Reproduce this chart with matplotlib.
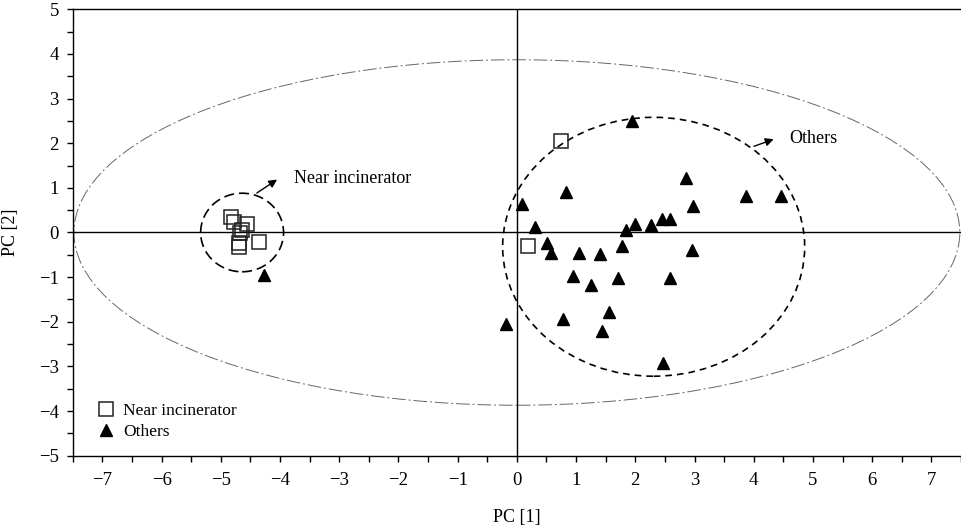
import matplotlib.pyplot as plt
from matplotlib.patches import Ellipse
from matplotlib.ticker import MultipleLocator

plt.rcParams['font.family'] = ['Liberation Serif', 'DejaVu Serif']

# PCA scores, samples collected near the incinerator
near_x = [-4.82, -4.78, -4.55, -4.64, -4.68, -4.70, -4.36, -4.69, 0.74, 0.18]
near_y = [0.35, 0.24, 0.20, 0.05, -0.02, -0.23, -0.22, -0.32, 2.05, -0.30]

# PCA scores, all other samples
others_x = [1.95, 2.86, 2.98, 0.83, 0.09, 0.30, 1.84, 2.00, 2.26, 2.45,
            2.58, 0.51, 0.57, 1.05, 1.40, 1.78, 2.96, 0.94, 1.26, 1.71,
            2.58, 1.55, 0.78, 1.44, -0.18, 2.46, 3.87, 4.46, -4.27]
others_y = [2.50, 1.23, 0.60, 0.91, 0.63, 0.13, 0.05, 0.19, 0.16, 0.31,
            0.31, -0.24, -0.45, -0.47, -0.49, -0.30, -0.39, -0.97, -1.17, -1.01,
            -1.01, -1.77, -1.94, -2.21, -2.06, -2.93, 0.82, 0.82, -0.95]

# Hotelling T2 ellipse and group outlines: (centre x, centre y, half width, half height)
t2_ellipse = (0.0, 0.0, 7.48, 3.87)
near_group = (-4.64, 0.0, 0.70, 0.88)
others_group = (2.31, -0.32, 2.55, 2.90)

fig = plt.figure(figsize=(9.61, 5.29), dpi=100)
ax = fig.add_axes([0.0757, 0.1386, 0.9243, 0.8438])

ax.set_xlim(-7.5, 7.5)
ax.set_ylim(-5, 5)

# outer confidence ellipse
cx, cy, a, b = t2_ellipse
ax.add_patch(Ellipse((cx, cy), 2 * a, 2 * b, fill=False, edgecolor='#666666',
                     lw=0.7, linestyle=(0, (14, 3, 2, 3))))

# group outlines
cx, cy, a, b = near_group
ax.add_patch(Ellipse((cx, cy), 2 * a, 2 * b, fill=False, edgecolor='black',
                     lw=1.2, linestyle=(0, (6, 3))))
cx, cy, a, b = others_group
ax.add_patch(Ellipse((cx, cy), 2 * a, 2 * b, fill=False, edgecolor='black',
                     lw=1.2, linestyle=(0, (4, 3))))

ax.axhline(0, color='black', lw=1.0, zorder=1)
ax.axvline(0, color='black', lw=1.0, zorder=1)

ax.plot(near_x, near_y, 's', ms=9.5, mfc='none', mec='#222222', mew=1.1,
        linestyle='none', label='Near incinerator', zorder=3)
ax.plot(others_x, others_y, '^', ms=8, color='black',
        linestyle='none', label='Others', zorder=3)

arrow = dict(arrowstyle='-|>', color='black', lw=1.0, mutation_scale=12)
ax.annotate('', xy=(-4.01, 1.22), xytext=(-4.43, 0.85), arrowprops=arrow)
ax.text(-3.76, 1.22, 'Near incinerator', fontsize=13, va='center', ha='left')
ax.annotate('', xy=(4.38, 2.11), xytext=(3.96, 1.91), arrowprops=arrow)
ax.text(4.6, 2.11, 'Others', fontsize=13, va='center', ha='left')

ax.xaxis.set_major_locator(MultipleLocator(1))
ax.xaxis.set_minor_locator(MultipleLocator(0.5))
ax.yaxis.set_major_locator(MultipleLocator(1))
ax.yaxis.set_minor_locator(MultipleLocator(0.5))
ax.tick_params(which='both', direction='out', length=4, width=1,
               labelsize=13.5, top=False, right=False)
ax.tick_params(axis='x', pad=8)
ax.tick_params(axis='y', pad=6)
ax.set_xticklabels([f'{v:g}'.replace('-', '\u2212') for v in ax.get_xticks()])
ax.set_yticklabels([f'{v:g}'.replace('-', '\u2212') for v in ax.get_yticks()])

ax.spines['right'].set_visible(False)
for side in ('left', 'bottom', 'top'):
    ax.spines[side].set_linewidth(1.0)

ax.set_xlabel('PC [1]', fontsize=13, labelpad=14)
ax.set_ylabel('PC [2]', fontsize=13, labelpad=14)

ax.legend(loc='lower left', bbox_to_anchor=(0.01, 0.0), frameon=False,
          fontsize=12.5, handletextpad=0.5, labelspacing=0.3, handlelength=1.0)

fig.savefig('out.png', dpi=100)
